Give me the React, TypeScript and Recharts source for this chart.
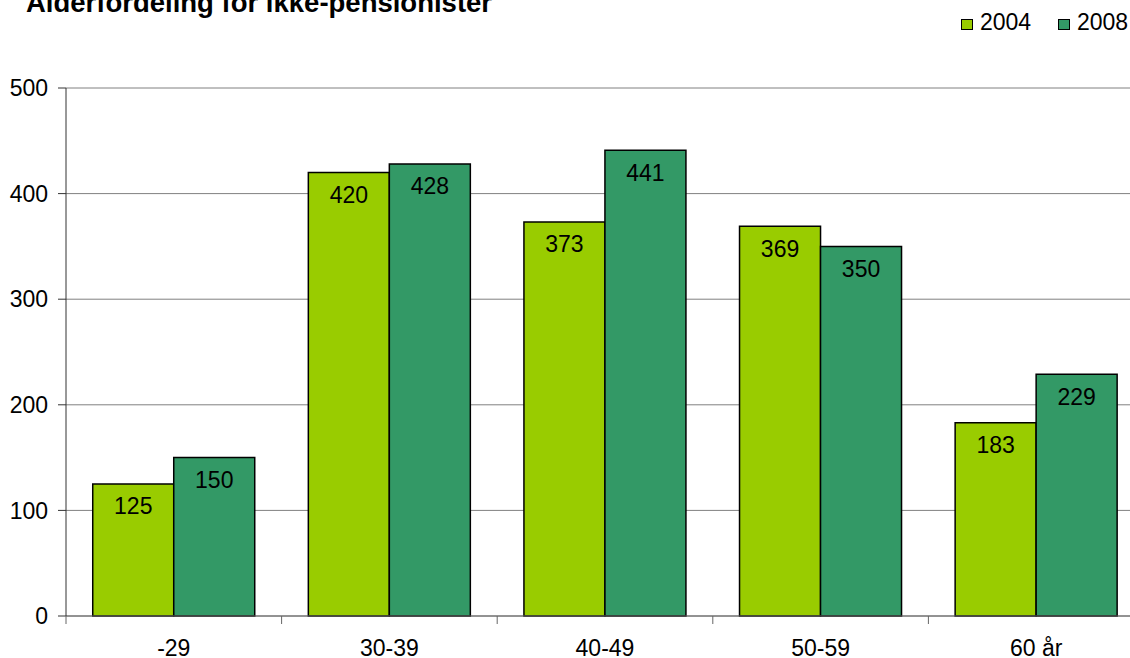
import { BarChart, Bar, XAxis, YAxis, CartesianGrid, LabelList } from 'recharts'

const categories = ['-29', '30-39', '40-49', '50-59', '60 år']
const values2004 = [125, 420, 373, 369, 183]
const values2008 = [150, 428, 441, 350, 229]
const yTicks = [0, 100, 200, 300, 400, 500]

const SERIES = [
  { key: 'y2004', name: '2004', color: '#99cc00' },
  { key: 'y2008', name: '2008', color: '#339966' },
]

const data = categories.map((cat, i) => ({ cat, y2004: values2004[i], y2008: values2008[i] }))

const FONT = 'Arial, "Liberation Sans", sans-serif'
const CHART_W = 1144
const CHART_H = 658
const Y_AXIS_W = 66
const BAND = (CHART_W - Y_AXIS_W) / categories.length

const XTick = ({ x, y, payload }: any) => (
  <g>
    <line x1={x - BAND / 2} x2={x - BAND / 2} y1={y} y2={y + 8} stroke="#666" />
    <text x={x} y={y + 40} textAnchor="middle" fill="#000" fontSize={23} fontFamily={FONT}>
      {payload.value}
    </text>
  </g>
)

export default function App() {
  return (
    <div
      style={{
        position: 'fixed',
        left: 0,
        top: 0,
        width: 1130,
        height: 658,
        overflow: 'hidden',
        background: '#fff',
        fontFamily: FONT,
      }}
    >
      <div
        style={{
          position: 'absolute',
          left: 26,
          top: -11,
          fontSize: 27.5,
          lineHeight: '27.5px',
          fontWeight: 'bold',
          whiteSpace: 'nowrap',
          color: '#000',
        }}
      >
        Alderfordeling for ikke-pensionister
      </div>

      {SERIES.map((s, i) => (
        <div key={s.key}>
          <span
            style={{
              position: 'absolute',
              left: 961 + i * 97,
              top: 19,
              width: 12,
              height: 11,
              boxSizing: 'border-box',
              border: '1px solid #000',
              background: s.color,
            }}
          />
          <span
            style={{
              position: 'absolute',
              left: 980 + i * 97,
              top: 10.5,
              fontSize: 23,
              lineHeight: '23px',
              color: '#000',
            }}
          >
            {s.name}
          </span>
        </div>
      ))}

      <BarChart
        width={CHART_W}
        height={CHART_H}
        data={data}
        margin={{ top: 88, right: 0, bottom: 0, left: 0 }}
        barCategoryGap="12.4%"
        barGap={0}
      >
        <CartesianGrid vertical={false} stroke="#808080" />
        <XAxis
          dataKey="cat"
          height={42}
          axisLine={{ stroke: '#666' }}
          tickLine={false}
          tickSize={0}
          tickMargin={0}
          interval={0}
          tick={<XTick />}
        />
        <YAxis
          width={Y_AXIS_W}
          domain={[0, 500]}
          ticks={yTicks}
          axisLine={{ stroke: '#333' }}
          tickLine={{ stroke: '#333' }}
          tickSize={8}
          tickMargin={10}
          tick={{ fill: '#000', fontSize: 23, fontFamily: FONT }}
        />
        {SERIES.map((s) => (
          <Bar
            key={s.key}
            dataKey={s.key}
            name={s.name}
            fill={s.color}
            stroke="#000"
            strokeWidth={1.5}
            isAnimationActive={false}
          >
            <LabelList
              dataKey={s.key}
              position="insideTop"
              offset={14}
              fill="#000"
              fontSize={23}
              fontFamily={FONT}
            />
          </Bar>
        ))}
      </BarChart>
    </div>
  )
}
